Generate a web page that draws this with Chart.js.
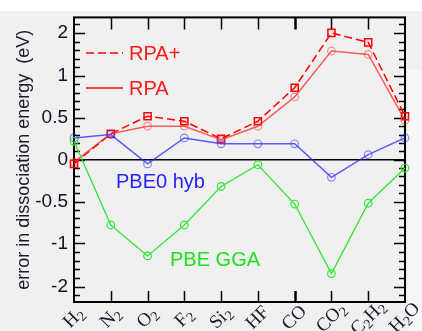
<!DOCTYPE html>
<html>
<head>
<meta charset="utf-8">
<script src="https://cdn.jsdelivr.net/npm/chart.js@4.4.1/dist/chart.umd.min.js"></script>
<style>
  html, body { margin: 0; padding: 0; background: #f0f0f0; overflow: hidden; }
  #topband { position: absolute; left: 0; top: 0; width: 422px; height: 11px; background: #fff; }
  #sideband { position: absolute; left: 408px; top: 70px; width: 14px; height: 261px; background: #f7f7f7; }
  canvas { position: absolute; left: 0; top: 0; }
</style>
</head>
<body>
<div id="topband"></div>
<div id="sideband"></div>
<canvas id="chart" width="422" height="331"></canvas>
<script>
// ----------------------
// DATA
// ----------------------
const molecules = ["H2", "N2", "O2", "F2", "Si2", "HF", "CO", "CO2", "C2H2", "H2O"];

const rpaPlus = [-0.05, 0.31, 0.52, 0.46, 0.25, 0.46, 0.86, 2.00, 1.78, 0.52];
const rpa     = [-0.03, 0.31, 0.40, 0.40, 0.24, 0.40, 0.75, 1.58, 1.50, 0.47];
const pbe0    = [0.26, 0.30, -0.05, 0.26, 0.19, 0.19, 0.19, -0.21, 0.06, 0.26];
const pbeGga  = [0.22, -0.78, -1.29, -0.78, -0.32, -0.06, -0.53, -1.70, -0.52, -0.10];

const yMajor = [-2, -1, -0.5, 0, 0.5, 1, 2];
const yMinor = [-2.2, -1.8, -1.6, -1.4, -1.2, -0.9, -0.8, -0.7, -0.6, -0.4, -0.3, -0.2, -0.1,
                0.1, 0.2, 0.3, 0.4, 0.6, 0.7, 0.8, 0.9, 1.2, 1.4, 1.6, 1.8, 2.2];

// axis is linear inside [-1, 1] and squeezed outside it
const squeeze = 0.515;
const toAxis = v => Math.abs(v) <= 1 ? v : Math.sign(v) * (1 + (Math.abs(v) - 1) * squeeze);
const fromAxis = t => Math.abs(t) <= 1 ? t : Math.sign(t) * (1 + (Math.abs(t) - 1) / squeeze);

// ----------------------
// SCALE
// ----------------------
class BrokenScale extends Chart.LinearScale {
  buildTicks() {
    return yMajor.map(v => ({ value: v }));
  }
  getPixelForValue(v) {
    return super.getPixelForValue(toAxis(v));
  }
  getValueForPixel(p) {
    return fromAxis(super.getValueForPixel(p));
  }
}
BrokenScale.id = "broken";
BrokenScale.defaults = {};
Chart.register(BrokenScale);

// ----------------------
// FRAME, TICKS, LABELS
// ----------------------
const framePlugin = {
  id: "frame",
  beforeDatasetsDraw(chart) {
    const { ctx, chartArea: a, scales: { x, y } } = chart;
    ctx.save();
    ctx.strokeStyle = "#000";

    // zero line
    ctx.lineWidth = 1.5;
    ctx.beginPath();
    ctx.moveTo(a.left, y.getPixelForValue(0));
    ctx.lineTo(a.right, y.getPixelForValue(0));
    ctx.stroke();

    // y ticks, both sides, pointing in
    const yTick = (v, len) => {
      const py = Math.round(y.getPixelForValue(v)) + 0.5;
      ctx.beginPath();
      ctx.moveTo(a.left, py); ctx.lineTo(a.left + len, py);
      ctx.moveTo(a.right, py); ctx.lineTo(a.right - len, py);
      ctx.stroke();
    };
    ctx.lineWidth = 1.5;
    yMajor.forEach(v => yTick(v, 11));
    yMinor.forEach(v => yTick(v, 6));

    // x ticks top and bottom
    molecules.forEach((m, i) => {
      if (i === 0 || i === molecules.length - 1) return;
      const px = Math.round(x.getPixelForTick(i)) + 0.5;
      ctx.lineWidth = m === "CO" ? 2.5 : 1.5;
      ctx.beginPath();
      ctx.moveTo(px, a.top); ctx.lineTo(px, a.top + 12);
      ctx.moveTo(px, a.bottom); ctx.lineTo(px, a.bottom - 11);
      ctx.stroke();
    });

    // frame
    ctx.lineWidth = 2;
    ctx.strokeRect(a.left, a.top, a.right - a.left, a.bottom - a.top);
    ctx.restore();
  },
  afterDatasetsDraw(chart) {
    const { ctx, chartArea: a, scales: { x } } = chart;
    ctx.save();

    // rotated molecule names with subscripts
    ctx.fillStyle = "#1a1a2a";
    ctx.textBaseline = "middle";
    ctx.textAlign = "left";
    const mainFont = "19px 'Liberation Serif', serif";
    const subFont = "14px 'Liberation Serif', serif";
    molecules.forEach((m, i) => {
      const parts = m.match(/\d+|\D+/g);
      let w = 0;
      const widths = parts.map(p => {
        ctx.font = /\d/.test(p) ? subFont : mainFont;
        const pw = ctx.measureText(p).width;
        w += pw;
        return pw;
      });
      ctx.save();
      ctx.translate(x.getPixelForTick(i), a.bottom + 16);
      ctx.rotate(-Math.PI / 4);
      let cx = -w / 2;
      parts.forEach((p, j) => {
        const sub = /\d/.test(p);
        ctx.font = sub ? subFont : mainFont;
        ctx.fillText(p, cx, sub ? 5 : 0);
        cx += widths[j];
      });
      ctx.restore();
    });

    // legend lines and series names
    ctx.lineWidth = 1.5;
    ctx.strokeStyle = "#ff0000";
    ctx.setLineDash([8, 4]);
    ctx.beginPath(); ctx.moveTo(86, 53); ctx.lineTo(123, 53); ctx.stroke();
    ctx.setLineDash([]);
    ctx.beginPath(); ctx.moveTo(86, 88); ctx.lineTo(123, 88); ctx.stroke();

    ctx.font = "20px 'Liberation Sans', Arial, sans-serif";
    ctx.fillStyle = "#ff1a1a";
    ctx.fillText("RPA+", 129, 54);
    ctx.fillText("RPA", 129, 89);
    ctx.fillStyle = "#2424ff";
    ctx.fillText("PBE0 hyb", 116, 182);
    ctx.fillStyle = "#22e022";
    ctx.fillText("PBE GGA", 170, 260);
    ctx.restore();
  }
};

// ----------------------
// CHART
// ----------------------
const hollow = "rgba(0,0,0,0)";

new Chart(document.getElementById("chart"), {
  type: "line",
  data: {
    labels: molecules,
    datasets: [
      {
        label: "PBE GGA",
        data: pbeGga,
        borderColor: "#33e633",
        borderWidth: 1.3,
        pointRadius: 3.8,
        pointBorderColor: "#33e633",
        pointBackgroundColor: hollow,
        pointBorderWidth: 1.2,
        clip: false
      },
      {
        label: "PBE0 hyb",
        data: pbe0,
        borderColor: "rgba(40,40,255,0.75)",
        borderWidth: 1.5,
        pointRadius: 3.8,
        pointBorderColor: "rgba(60,60,255,0.6)",
        pointBackgroundColor: hollow,
        pointBorderWidth: 1.2,
        clip: false
      },
      {
        label: "RPA",
        data: rpa,
        borderColor: "rgba(255,30,30,0.7)",
        borderWidth: 1.5,
        pointRadius: 3.8,
        pointBorderColor: "rgba(255,60,60,0.55)",
        pointBackgroundColor: hollow,
        pointBorderWidth: 1.2,
        clip: false
      },
      {
        label: "RPA+",
        data: rpaPlus,
        borderColor: "#ff0000",
        borderDash: [8, 4],
        borderWidth: 1.5,
        pointStyle: "rect",
        pointRadius: 5,
        pointBorderColor: "#ff0000",
        pointBackgroundColor: hollow,
        pointBorderWidth: 1.5,
        clip: false
      }
    ]
  },
  options: {
    responsive: false,
    animation: false,
    events: [],
    layout: { padding: { top: 16, right: 17, left: 0, bottom: 0 } },
    plugins: { legend: { display: false }, tooltip: { enabled: false } },
    elements: { line: { tension: 0 } },
    scales: {
      x: {
        type: "category",
        offset: false,
        grid: { display: false },
        border: { display: false },
        ticks: { display: false },
        afterFit: s => { s.height = 29; }
      },
      y: {
        type: "broken",
        min: -1.70,
        max: 1.70,
        grid: { display: false, drawTicks: false },
        border: { display: false },
        ticks: {
          padding: 6,
          color: "#101020",
          font: { family: "'Liberation Sans', Arial, sans-serif", size: 19 },
          callback: v => String(v)
        },
        title: {
          display: true,
          text: "error in dissociation energy  (eV)",
          color: "#1a1a2a",
          font: { family: "'Liberation Sans', Arial, sans-serif", size: 18 },
          padding: { top: 13, bottom: 0 }
        },
        afterFit: s => { s.width = 74; }
      }
    }
  },
  plugins: [framePlugin]
});
</script>
</body>
</html>
